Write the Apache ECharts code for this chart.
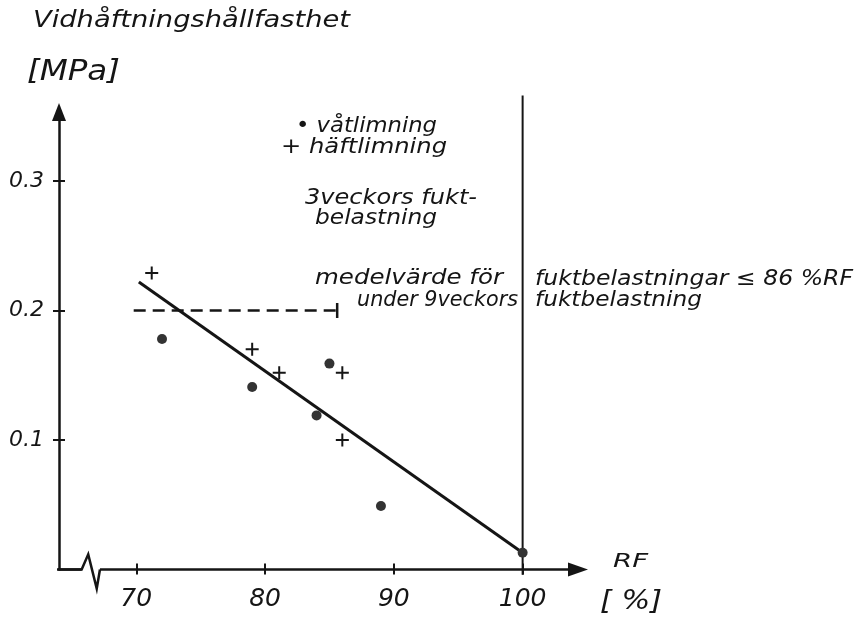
<!DOCTYPE html>
<html>
<head>
<meta charset="utf-8">
<script src="https://cdn.jsdelivr.net/npm/echarts@6/dist/echarts.min.js"></script>
<style>
  html, body { margin: 0; padding: 0; background: #fff; }
  #chart { width: 866px; height: 619px; }
</style>
</head>
<body>
<div id="chart"></div>
<script>
// Relative humidity (RF, %) tick values and adhesion strength ticks (MPa)
const rfTicks = [70, 80, 90, 100];
const strengthTicks = [0.1, 0.2, 0.3];

// Wet gluing (våtlimning) measurements
const vatRF = [72, 79, 84, 85, 89, 100];
const vatStrength = [0.178, 0.141, 0.119, 0.159, 0.049, 0.013];

// Contact gluing (häftlimning) measurements
const haftRF = [71.2, 79, 81.1, 86, 86];
const haftStrength = [0.229, 0.170, 0.152, 0.152, 0.100];

// Fitted trend line
const trendRF = [70.2, 100];
const trendStrength = [0.222, 0.013];

// Mean value for moisture loads <= 86 % RF during 9 weeks
const meanRF = [69.8, 85.6];
const meanStrength = [0.2, 0.2];

// Vertical reference at 100 % RF
const limitRF = [100, 100];
const limitStrength = [-0.004, 0.366];

// Axis break zig-zag on the RF axis
const breakRF = [63.3, 65.76, 66.27, 66.93, 67.18];
const breakStrength = [0, 0, 0.0117, -0.0147, 0];

const FONT = '"DejaVu Sans", "Noto Sans", sans-serif';
const INK = '#151515';

const pairs = (xs, ys) => xs.map((x, i) => [x, ys[i]]);

// Hand-lettered annotations: text, left, right, baseline, font size
const notes = [
  ['Vidhåftningshållfasthet', 33, 350, 29, 23],
  ['[MPa]', 27, 120, 83, 28],
  ['• våtlimning', 296, 437, 134, 21],
  ['+ häftlimning', 281, 447, 155, 21],
  ['3veckors fukt-', 305, 477, 206, 21],
  ['belastning', 315, 437, 226, 21],
  ['medelvärde för', 315, 503, 286, 21],
  ['under 9veckors', 357, 518, 308, 21],
  ['fuktbelastningar ≤ 86 %RF', 535, 853, 287, 21],
  ['fuktbelastning', 535, 702, 308, 21],
  ['RF', 613, 648, 569, 20],
  ['[ %]', 600, 662, 611, 26]
];

const measureCtx = document.createElement('canvas').getContext('2d');
function textWidth(text, size) {
  measureCtx.font = 'italic ' + size + 'px ' + FONT;
  return measureCtx.measureText(text).width;
}

const graphic = notes.map(([text, left, right, baseline, size]) => ({
  type: 'text',
  x: left,
  y: baseline - 0.35 * size,
  scaleX: (right - left) / textWidth(text, size),
  silent: true,
  style: {
    text: text,
    fontSize: size,
    fontFamily: FONT,
    fontStyle: 'italic',
    fill: INK,
    textAlign: 'left',
    textVerticalAlign: 'middle'
  }
}));

const chart = echarts.init(document.getElementById('chart'), null, { renderer: 'canvas' });

const baseX = {
  type: 'value',
  position: 'bottom',
  min: 64,
  max: 104.3,
  splitLine: { show: false }
};
const baseY = {
  type: 'value',
  position: 'left',
  min: 0,
  max: 0.3533,
  splitLine: { show: false }
};

chart.setOption({
  animation: false,
  backgroundColor: '#fff',
  grid: { left: 59, right: 288, top: 112, bottom: 49.5, containLabel: false },
  xAxis: [
    Object.assign({}, baseX, {
      axisLine: {
        show: true,
        lineStyle: { color: INK, width: 2.5 },
        symbol: ['none', 'triangle'],
        symbolSize: [14, 20]
      },
      axisTick: { show: true, length: 5, lineStyle: { color: INK, width: 2 }, customValues: rfTicks },
      axisLabel: {
        show: true,
        margin: 17,
        fontSize: 25,
        fontStyle: 'italic',
        fontFamily: FONT,
        color: INK,
        customValues: rfTicks
      }
    }),
    Object.assign({}, baseX, {
      axisLine: { show: false },
      axisTick: { show: true, inside: true, length: 6, lineStyle: { color: INK, width: 2 }, customValues: rfTicks },
      axisLabel: { show: false }
    })
  ],
  yAxis: [
    Object.assign({}, baseY, {
      axisLine: {
        show: true,
        lineStyle: { color: INK, width: 2.5 },
        symbol: ['none', 'triangle'],
        symbolSize: [14, 18]
      },
      axisTick: { show: true, length: 6, lineStyle: { color: INK, width: 2 }, customValues: strengthTicks },
      axisLabel: {
        show: true,
        margin: 15,
        fontSize: 22,
        fontStyle: 'italic',
        fontFamily: FONT,
        color: INK,
        customValues: strengthTicks
      }
    }),
    Object.assign({}, baseY, {
      axisLine: { show: false },
      axisTick: { show: true, inside: true, length: 6, lineStyle: { color: INK, width: 2 }, customValues: strengthTicks },
      axisLabel: { show: false }
    })
  ],
  graphic: graphic,
  series: [
    {
      name: 'gap',
      type: 'line',
      data: pairs([breakRF[1], breakRF[4]], [0, 0]),
      symbol: 'none',
      clip: false,
      silent: true,
      lineStyle: { color: '#fff', width: 6 },
      z: 3
    },
    {
      name: 'break',
      type: 'line',
      data: pairs(breakRF, breakStrength),
      symbol: 'none',
      clip: false,
      silent: true,
      lineStyle: { color: INK, width: 2.5, join: 'miter' },
      z: 4
    },
    {
      name: '100 % RF',
      type: 'line',
      data: pairs(limitRF, limitStrength),
      symbol: 'none',
      clip: false,
      silent: true,
      lineStyle: { color: INK, width: 2 },
      z: 3
    },
    {
      name: 'trend',
      type: 'line',
      data: pairs(trendRF, trendStrength),
      symbol: 'none',
      clip: false,
      silent: true,
      lineStyle: { color: INK, width: 3 },
      z: 4
    },
    {
      name: 'medelvärde',
      type: 'line',
      data: pairs(meanRF, meanStrength).map((p, i) => ({
        value: p,
        symbol: i === 1 ? 'rect' : 'none',
        symbolSize: [2.5, 15],
        itemStyle: { color: INK }
      })),
      showSymbol: true,
      clip: false,
      silent: true,
      lineStyle: { color: INK, width: 2.6, type: [12, 7] },
      z: 4
    },
    {
      name: 'våtlimning',
      type: 'scatter',
      data: pairs(vatRF, vatStrength),
      symbol: 'circle',
      symbolSize: 10,
      itemStyle: { color: '#333', opacity: 1 },
      z: 5
    },
    {
      name: 'häftlimning',
      type: 'scatter',
      data: pairs(haftRF, haftStrength),
      symbol: 'path://M0,5.5h13v2h-13z M5.5,0h2v13h-2z',
      symbolSize: 13,
      itemStyle: { color: INK, opacity: 1 },
      z: 5
    }
  ]
});
</script>
</body>
</html>
